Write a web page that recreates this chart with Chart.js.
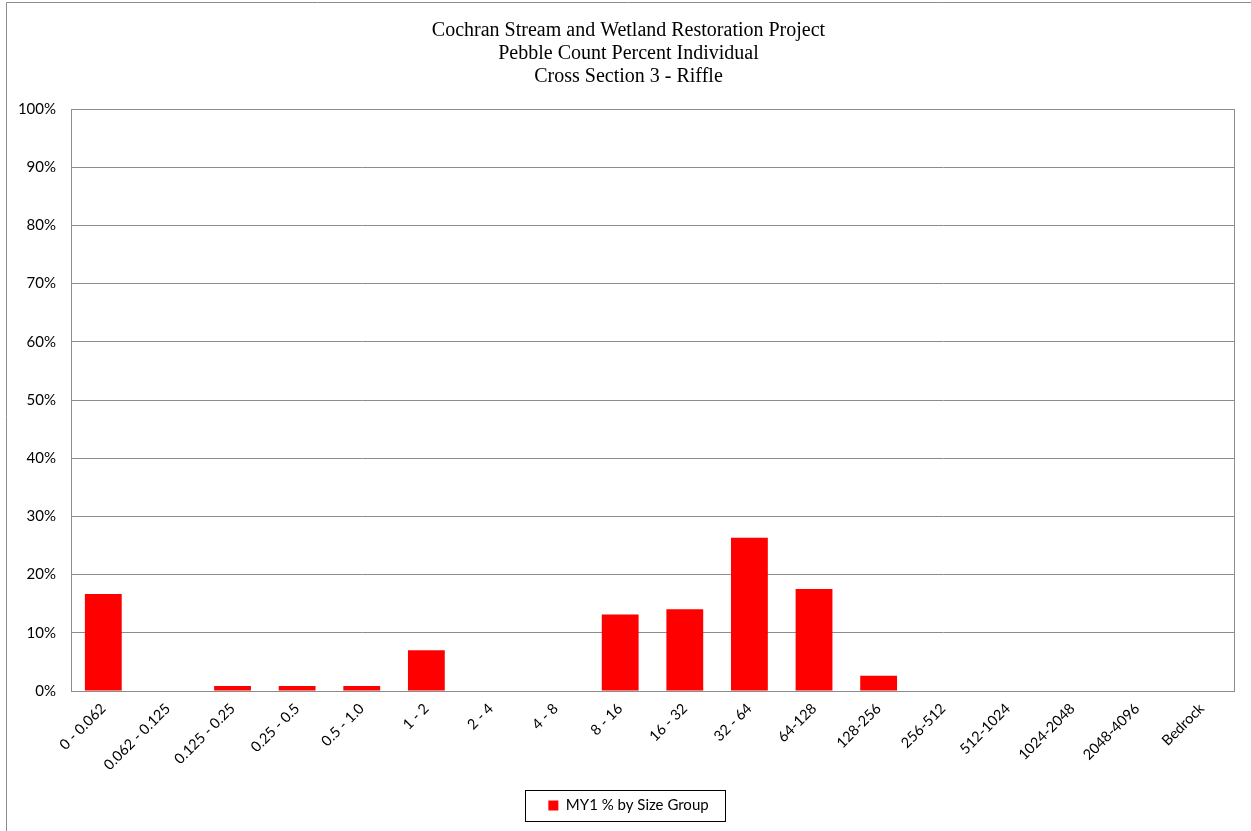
<!DOCTYPE html>
<html>
<head>
<meta charset="utf-8">
<script src="https://cdn.jsdelivr.net/npm/chart.js@4.4.0/dist/chart.umd.min.js"></script>
<style>
  html, body { margin: 0; padding: 0; background: #fff; }
  #wrap { width: 1251px; height: 831px; position: relative; }
</style>
</head>
<body>
<div id="wrap"><canvas id="pebble-chart" width="1251" height="831"></canvas></div>
<script>
const sizeGroups = ['0 - 0.062', '0.062 - 0.125', '0.125 - 0.25', '0.25 - 0.5', '0.5 - 1.0', '1 - 2', '2 - 4', '4 - 8',
  '8 - 16', '16 - 32', '32 - 64', '64-128', '128-256', '256-512', '512-1024', '1024-2048', '2048-4096', 'Bedrock'];
const my1Percent = [16.67, 0, 0.88, 0.88, 0.88, 7.02, 0, 0, 13.16, 14.04, 26.32, 17.54, 2.63, 0, 0, 0, 0, 0];
const titleLines = ['Cochran Stream and Wetland Restoration Project', 'Pebble Count Percent Individual', 'Cross Section 3 - Riffle'];
const seriesName = 'MY1 % by Size Group';

const PAD = { left: 6, top: 4, right: 0, bottom: 8 };
const PLOT_LEFT = 71, PLOT_BOTTOM = 691, PLOT_RIGHT_GAP = 17;
const GRID = '#8c8c8c';
const sansFamily = 'Lato, "Open Sans", sans-serif';

// outer frame, plot border and the box round the legend
const framePlugin = {
  id: 'frame',
  beforeDraw(chart) {
    const ctx = chart.ctx;
    ctx.save();
    ctx.fillStyle = '#fff';
    ctx.fillRect(0, 0, chart.width, chart.height);
    ctx.strokeStyle = '#8c8c8c';
    ctx.lineWidth = 1;
    ctx.beginPath();
    ctx.moveTo(6.5, chart.height);
    ctx.lineTo(6.5, 2.5);
    ctx.lineTo(chart.width, 2.5);
    ctx.stroke();
    ctx.restore();
  },
  afterDraw(chart) {
    const ctx = chart.ctx;
    const a = chart.chartArea;
    ctx.save();
    ctx.strokeStyle = GRID;
    ctx.lineWidth = 1;
    ctx.strokeRect(Math.round(a.left) + 0.5, Math.round(a.top) + 0.5, Math.round(a.right - a.left), Math.round(a.bottom - a.top));
    const hb = chart.legend.legendHitBoxes[0];
    if (hb) {
      ctx.strokeStyle = '#000';
      const cy = hb.top + hb.height / 2;
      ctx.strokeRect(Math.round(hb.left - 23) + 0.5, Math.round(cy - 16) + 0.5, Math.round(hb.width + 40), 31);
    }
    ctx.restore();
  }
};

new Chart(document.getElementById('pebble-chart').getContext('2d'), {
  type: 'bar',
  data: {
    labels: sizeGroups,
    datasets: [{
      label: seriesName,
      data: my1Percent,
      backgroundColor: '#ff0000',
      borderWidth: 0,
      barPercentage: 0.57,
      categoryPercentage: 1.0
    }]
  },
  options: {
    responsive: false,
    animation: false,
    layout: { padding: PAD },
    plugins: {
      title: {
        display: true,
        text: titleLines,
        color: '#000',
        font: { family: '"Liberation Serif", "Times New Roman", serif', size: 20, weight: 'normal', lineHeight: 1.15 },
        padding: { top: 15, bottom: 21 }
      },
      legend: {
        display: true,
        position: 'bottom',
        labels: {
          color: '#000',
          font: { family: sansFamily, size: 15 },
          boxWidth: 10,
          boxHeight: 10,
          padding: 10
        }
      },
      tooltip: { enabled: false }
    },
    scales: {
      x: {
        grid: { display: false, drawTicks: false },
        border: { display: true, color: GRID },
        ticks: { color: '#000', font: { family: sansFamily, size: 14.5 }, minRotation: 45, maxRotation: 45, padding: 9 },
        afterFit(axis) {
          const lg = axis.chart.legend;
          axis.height = axis.chart.height - PAD.bottom - lg.height - PLOT_BOTTOM;
        }
      },
      y: {
        min: 0,
        max: 100,
        grid: { color: GRID, drawTicks: false },
        border: { display: true, color: GRID },
        ticks: { stepSize: 10, color: '#000', font: { family: sansFamily, size: 15 }, padding: 15, callback: v => v + '%' },
        afterFit(axis) { axis.width = PLOT_LEFT - PAD.left; }
      },
      // empty right-hand margin so the title centres on the full frame
      gap: {
        type: 'linear',
        position: 'right',
        display: true,
        grid: { display: false, drawTicks: false },
        border: { display: false },
        ticks: { display: false },
        afterFit(axis) { axis.width = PLOT_RIGHT_GAP; }
      }
    }
  },
  plugins: [framePlugin]
});
</script>
</body>
</html>
